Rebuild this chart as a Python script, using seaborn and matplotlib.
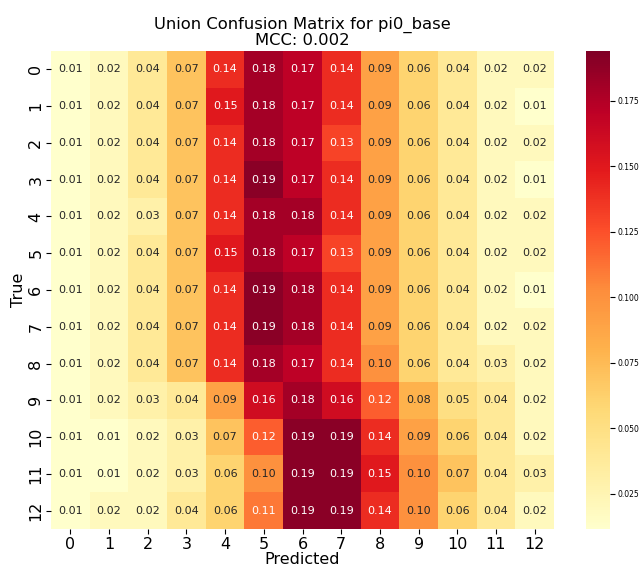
import numpy as np
import pandas as pd
import matplotlib
matplotlib.use("Agg")
import matplotlib.pyplot as plt
import seaborn as sns

labels = [str(i) for i in range(13)]

row_0 = [0.01, 0.02, 0.04, 0.07, 0.14, 0.18, 0.17, 0.14, 0.09, 0.06, 0.04, 0.02, 0.02]
row_1 = [0.01, 0.02, 0.04, 0.07, 0.15, 0.18, 0.17, 0.14, 0.09, 0.06, 0.04, 0.02, 0.01]
row_2 = [0.01, 0.02, 0.04, 0.07, 0.14, 0.18, 0.17, 0.13, 0.09, 0.06, 0.04, 0.02, 0.02]
row_3 = [0.01, 0.02, 0.04, 0.07, 0.14, 0.19, 0.17, 0.14, 0.09, 0.06, 0.04, 0.02, 0.01]
row_4 = [0.01, 0.02, 0.03, 0.07, 0.14, 0.18, 0.18, 0.14, 0.09, 0.06, 0.04, 0.02, 0.02]
row_5 = [0.01, 0.02, 0.04, 0.07, 0.15, 0.18, 0.17, 0.13, 0.09, 0.06, 0.04, 0.02, 0.02]
row_6 = [0.01, 0.02, 0.04, 0.07, 0.14, 0.19, 0.18, 0.14, 0.09, 0.06, 0.04, 0.02, 0.01]
row_7 = [0.01, 0.02, 0.04, 0.07, 0.14, 0.19, 0.18, 0.14, 0.09, 0.06, 0.04, 0.02, 0.02]
row_8 = [0.01, 0.02, 0.04, 0.07, 0.14, 0.18, 0.17, 0.14, 0.10, 0.06, 0.04, 0.03, 0.02]
row_9 = [0.01, 0.02, 0.03, 0.04, 0.09, 0.16, 0.18, 0.16, 0.12, 0.08, 0.05, 0.04, 0.02]
row_10 = [0.01, 0.01, 0.02, 0.03, 0.07, 0.12, 0.19, 0.19, 0.14, 0.09, 0.06, 0.04, 0.02]
row_11 = [0.01, 0.01, 0.02, 0.03, 0.06, 0.10, 0.19, 0.19, 0.15, 0.10, 0.07, 0.04, 0.03]
row_12 = [0.01, 0.02, 0.02, 0.04, 0.06, 0.11, 0.19, 0.19, 0.14, 0.10, 0.06, 0.04, 0.02]

mcc = 0.002
model_name = "pi0_base"

matrix = pd.DataFrame(
    [row_0, row_1, row_2, row_3, row_4, row_5, row_6, row_7, row_8,
     row_9, row_10, row_11, row_12],
    index=labels, columns=labels,
)

W, H = 639, 567
fig = plt.figure(figsize=(W / 100, H / 100), dpi=100)
ax = fig.add_axes([51 / W, 1 - 529 / H, 503 / W, 478 / H])
cax = fig.add_axes([586 / W, 1 - 529 / H, 24 / W, 478 / H])

sns.heatmap(
    matrix, ax=ax, cbar_ax=cax, cmap="YlOrRd", annot=True, fmt=".2f",
    vmin=0.0115, vmax=0.194, annot_kws={"fontsize": 8},
)

ax.set_title(f"Union Confusion Matrix for {model_name}\nMCC: {mcc:.3f}",
             fontsize=11.8, pad=4, linespacing=1.0)
ax.set_xlabel("Predicted", fontsize=11.5, labelpad=0)
ax.set_ylabel("True", fontsize=11.5, labelpad=2)
ax.tick_params(axis="both", labelsize=11.5, pad=2)
ax.set_yticklabels(labels, rotation=90, va="center")
ax.set_xticklabels(labels, rotation=0)
cax.set_yticks([0.025, 0.05, 0.075, 0.1, 0.125, 0.15, 0.175])
cax.tick_params(labelsize=5.5, pad=2)

fig.savefig("out.png", dpi=100)
